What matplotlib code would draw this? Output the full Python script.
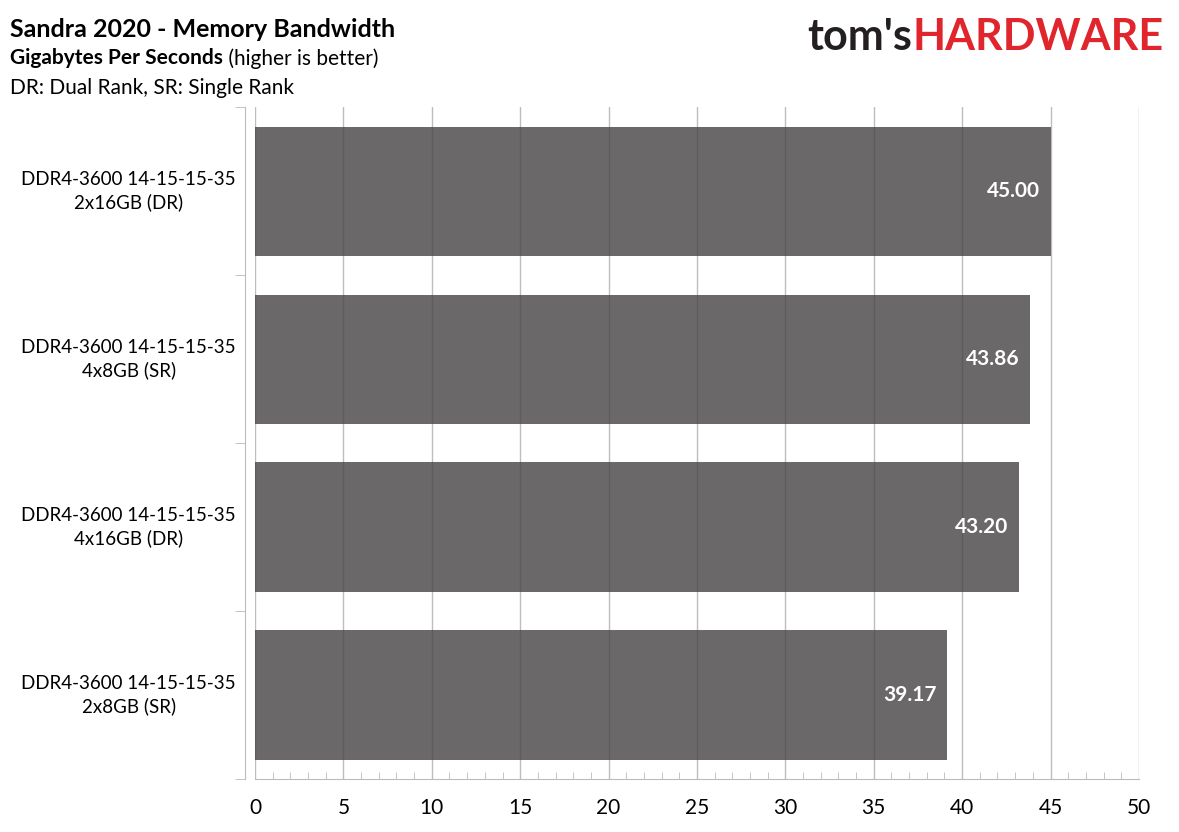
import matplotlib
matplotlib.use("Agg")
import matplotlib.pyplot as plt
import matplotlib.transforms as mtransforms
import numpy as np

plt.rcParams['font.family'] = ['Lato', 'DejaVu Sans']

labels = ["DDR4-3600 14-15-15-35\n2x16GB (DR)",
          "DDR4-3600 14-15-15-35\n4x8GB (SR)",
          "DDR4-3600 14-15-15-35\n4x16GB (DR)",
          "DDR4-3600 14-15-15-35\n2x8GB (SR)"]
values = [45.00, 43.86, 43.20, 39.17]

fig = plt.figure(figsize=(11.79, 8.32), dpi=100)
ax = fig.add_axes([0.2163, 0.0637, 0.7497, 0.8073])

y = np.arange(len(values))
ax.barh(y, values, height=0.77, color="#6b6869", zorder=1)
for yi, v in zip(y, values):
    ax.text(v - 0.6, yi, f"{v:.2f}", ha="right", va="center", color="white",
            fontsize=15, fontweight="bold", zorder=3)

ax.set_xlim(0, 50)
ax.set_ylim(len(values) - 0.5, -0.5)
ax.set_xticks(np.arange(0, 51, 5))
ax.set_xticks(np.arange(0, 51, 1), minor=True)
ax.xaxis.grid(True, color="#444444", alpha=0.35, linewidth=1, zorder=2)
ax.set_axisbelow(False)
ax.tick_params(axis="x", which="major", length=0, labelsize=15, pad=14)
ax.tick_params(axis="x", which="minor", direction="in", length=5, color="#bbbbbb")

# category labels, centred lines like the original
ax.set_yticks(y)
ax.set_yticklabels([])
ax.tick_params(axis="y", which="major", length=0)
ax.set_yticks(np.arange(-0.5, len(values), 1), minor=True)
ax.tick_params(axis="y", which="minor", length=7, color="#bbbbbb")
trans = mtransforms.blended_transform_factory(ax.transAxes, ax.transData)
for yi, lab in zip(y, labels):
    ax.text(-0.143, yi, lab, transform=trans, ha="center", va="center",
            fontsize=13.5, linespacing=1.35, multialignment="center")

for s in ["top", "right"]:
    ax.spines[s].set_visible(False)
ax.spines["left"].set_position(("outward", 7))
ax.spines["left"].set_color("#bbbbbb")
ax.spines["bottom"].set_color("#bbbbbb")

fig.text(0.0085, 0.965, "Sandra 2020 - Memory Bandwidth", fontsize=18, fontweight="bold", va="center")
sub = fig.text(0.0085, 0.930, "Gigabytes Per Seconds", fontsize=15, fontweight="bold", va="center")
ax.annotate(" (higher is better)", xy=(1, 0.5), xycoords=sub, fontsize=15, va="center")
fig.text(0.0085, 0.894, "DR: Dual Rank, SR: Single Rank", fontsize=15, va="center")

hw = fig.text(0.987, 0.955, "HARDWARE", fontsize=31, fontweight="bold", color="#e0252d",
              va="center", ha="right")
ax.annotate("tom's", xy=(0, 0.5), xycoords=hw, fontsize=31, fontweight="bold",
            color="#231f20", va="center", ha="right")

fig.savefig("out.png", dpi=100)
